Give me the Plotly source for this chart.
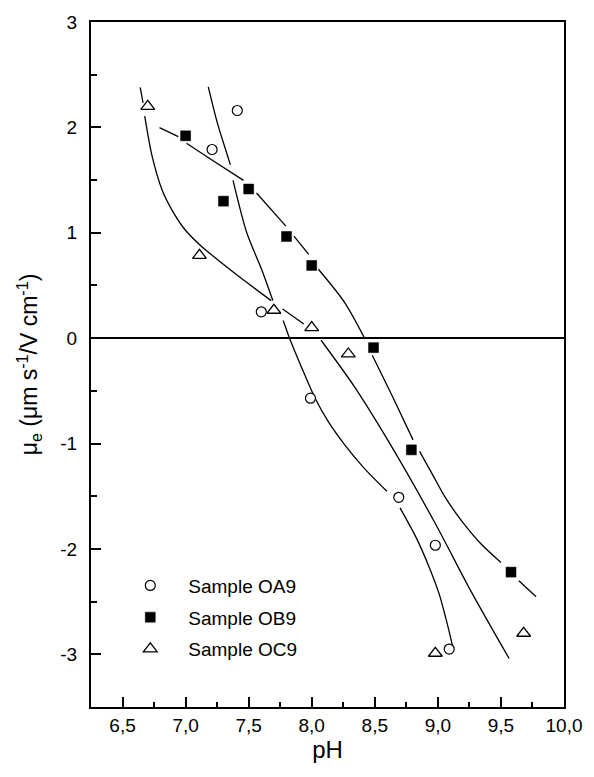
import plotly.graph_objects as go

# Measured electrophoretic mobility vs pH
ph_oa9 = [7.41, 7.21, 7.60, 7.99, 8.69, 8.98, 9.09]
mu_oa9 = [2.16, 1.79, 0.25, -0.57, -1.51, -1.965, -2.95]

ph_ob9 = [7.00, 7.30, 7.50, 7.80, 8.00, 8.49, 8.79, 9.58]
mu_ob9 = [1.92, 1.30, 1.415, 0.965, 0.69, -0.09, -1.06, -2.22]

ph_oc9 = [6.70, 7.11, 7.70, 8.00, 8.29, 8.98, 9.68]
mu_oc9 = [2.20, 0.785, 0.265, 0.10, -0.15, -2.99, -2.80]

# Fitted trend curves (None marks breaks in the drawn line)
fit_oa9_x = [7.18, 7.252, 7.33, 7.355, None,
             7.376, 7.485, 7.60, 7.692, None,
             7.774, 7.821, 7.924, 8.028, 8.13, 8.26, 8.415, 8.596, None,
             8.70, 8.828, 8.932, 9.01, 9.061, 9.10, 9.121]
fit_oa9_y = [2.384, 2.04, 1.74, 1.644, None,
             1.497, 1.0, 0.66, 0.356, None,
             0.167, 0.009, -0.29, -0.573, -0.79, -1.01, -1.233, -1.453, None,
             -1.61, -1.893, -2.176, -2.427, -2.648, -2.837, -2.946]

fit_ob9_x = [6.793, 6.942, None,
             7.007, 7.227, 7.459, None,
             7.562, 7.795, None,
             7.859, 7.976, None,
             8.053, 8.26, 8.415, None,
             8.48, 8.648, 8.803, None,
             8.855, 8.958, 9.061, 9.19, 9.345, 9.50, None,
             9.642, 9.779]
fit_ob9_y = [1.997, 1.912, None,
             1.849, 1.676, 1.497, None,
             1.377, 1.063, None,
             0.969, 0.795, None,
             0.654, 0.34, 0.009, None,
             -0.163, -0.573, -0.965, None,
             -1.075, -1.295, -1.516, -1.736, -1.956, -2.129, None,
             -2.302, -2.453]

fit_oc9_x = [6.640, 6.663, None,
             6.676, 6.735, 6.813, 6.890, 6.994, 7.123, 7.382, 7.679, None,
             7.769, 7.937, None,
             8.074, 8.338, 8.609, 8.971, 9.262, 9.565]
fit_oc9_y = [2.38, 2.233, None,
             2.107, 1.724, 1.408, 1.22, 1.031, 0.875, 0.623, 0.356, None,
             0.276, 0.135, None,
             -0.02, -0.46, -0.98, -1.74, -2.40, -3.04]

x_ticks = [6.5, 7.0, 7.5, 8.0, 8.5, 9.0, 9.5, 10.0]
x_tick_text = ["6,5", "7,0", "7,5", "8,0", "8,5", "9,0", "9,5", "10,0"]
x_minor = [6.75, 7.25, 7.75, 8.25, 8.75, 9.25, 9.75]
y_ticks = [-3, -2, -1, 0, 1, 2, 3]
y_tick_text = ["-3", "-2", "-1", "0", "1", "2", "3"]
y_minor = [-2.5, -1.5, -0.5, 0.5, 1.5, 2.5]

FONT = "Arial, Liberation Sans, sans-serif"
line_style = dict(color="black", width=1.3, shape="spline", smoothing=0.8)

fig = go.Figure()
for fx, fy in [(fit_oa9_x, fit_oa9_y), (fit_ob9_x, fit_ob9_y), (fit_oc9_x, fit_oc9_y)]:
    fig.add_trace(go.Scatter(x=fx, y=fy, mode="lines", line=line_style,
                             connectgaps=False, showlegend=False, hoverinfo="skip"))

fig.add_trace(go.Scatter(
    x=ph_oa9, y=mu_oa9, mode="markers", name="Sample OA9", legendgroup="a",
    marker=dict(symbol="circle", size=10, color="white",
                line=dict(color="black", width=1.2))))
fig.add_trace(go.Scatter(
    x=ph_ob9, y=mu_ob9, mode="markers", name="Sample OB9", legendgroup="b",
    marker=dict(symbol="square", size=10, color="black",
                line=dict(color="black", width=0.5))))
fig.add_trace(go.Scatter(
    x=ph_oc9, y=mu_oc9, mode="markers", name="Sample OC9", legendgroup="c",
    marker=dict(symbol="triangle-up", size=12, color="white",
                line=dict(color="black", width=1.3))))

fig.update_layout(
    width=594, height=777,
    margin=dict(l=91, r=23, t=18, b=70),
    paper_bgcolor="white", plot_bgcolor="white",
    font=dict(family=FONT, size=19, color="black"),
    showlegend=True,
    legend=dict(x=0.045, y=0.205, xanchor="left", yanchor="top",
                bgcolor="rgba(0,0,0,0)", itemwidth=66, tracegroupgap=4,
                font=dict(size=19)),
    xaxis=dict(
        range=[6.25, 10.0], tickvals=x_ticks, ticktext=x_tick_text,
        ticks="inside", ticklen=10, tickwidth=1.5, tickcolor="black",
        showline=True, linewidth=2, linecolor="black", mirror=True,
        showgrid=False, zeroline=False,
        minor=dict(tickvals=x_minor, ticks="inside", ticklen=5,
                   tickwidth=1.5, tickcolor="black", showgrid=False),
        title=dict(text="pH", font=dict(size=24), standoff=6),
    ),
    xaxis2=dict(
        overlaying="x", side="top", range=[6.25, 10.0], tickvals=x_ticks,
        ticks="inside", ticklen=10, tickwidth=1.5, tickcolor="black",
        showticklabels=False, showline=False, showgrid=False, zeroline=False,
    ),
    yaxis=dict(
        range=[-3.5, 3.0], tickvals=y_ticks, ticktext=y_tick_text,
        ticks="inside", ticklen=10, tickwidth=1.5, tickcolor="black",
        ticklabelstandoff=8,
        showline=True, linewidth=2, linecolor="black", mirror=True,
        showgrid=False, zeroline=True, zerolinewidth=1.5, zerolinecolor="black",
        minor=dict(tickvals=y_minor, ticks="inside", ticklen=6,
                   tickwidth=1.5, tickcolor="black", showgrid=False),
        title=dict(text="μ<sub>e</sub> (μm s<sup>-1</sup>/V cm<sup>-1</sup>)",
                   font=dict(size=23), standoff=16),
    ),
)

fig.write_html("out.html")
